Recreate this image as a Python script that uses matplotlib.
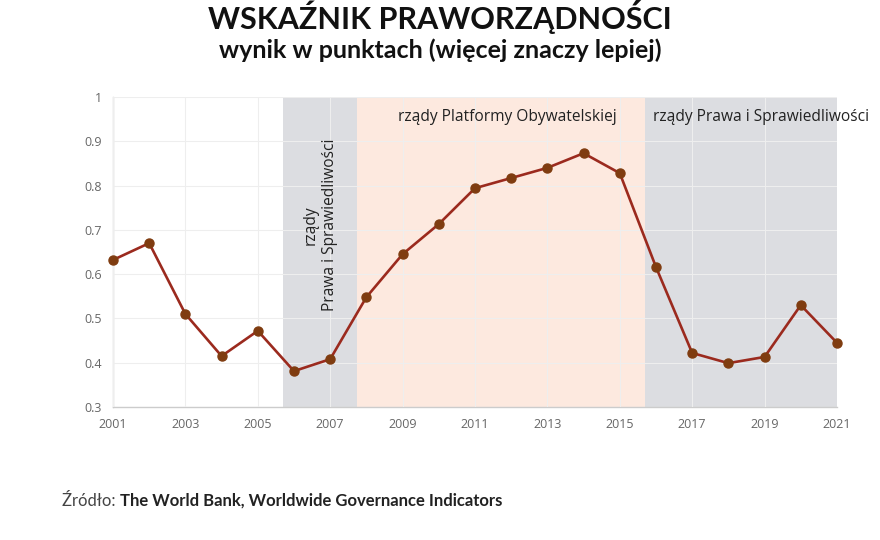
import matplotlib
matplotlib.use("Agg")
import matplotlib.pyplot as plt

years = list(range(2001, 2022))
values = [0.632, 0.670, 0.510, 0.415, 0.472, 0.381, 0.408, 0.548, 0.645, 0.713,
          0.794, 0.817, 0.840, 0.873, 0.828, 0.616, 0.422, 0.399, 0.413, 0.530, 0.445]
xticks = list(range(2001, 2022, 2))
yticks = [0.3, 0.4, 0.5, 0.6, 0.7, 0.8, 0.9, 1.0]
ytick_labels = ["0.3", "0.4", "0.5", "0.6", "0.7", "0.8", "0.9", "1"]
periods = [(2005.7, 2007.74, "#dcdde1"), (2007.74, 2015.7, "#fde9df"), (2015.7, 2021, "#dcdde1")]

fig = plt.figure(figsize=(8.8, 5.4), dpi=100)
fig.patch.set_facecolor("white")
ax = fig.add_axes([0.1284, 0.2463, 0.8227, 0.5741])

for x0, x1, c in periods:
    ax.axvspan(x0, x1, color=c, lw=0, zorder=0)

ax.set_xlim(2001, 2021)
ax.set_ylim(0.3, 1.0)
ax.set_xticks(xticks)
ax.set_yticks(yticks)
ax.set_yticklabels(ytick_labels)
ax.grid(True, color="#eeeeee", lw=0.8, zorder=1)
ax.set_axisbelow(False)
for s in ["top", "right"]:
    ax.spines[s].set_visible(False)
for s in ["left", "bottom"]:
    ax.spines[s].set_color("#cccccc")
    ax.spines[s].set_linewidth(1)
ax.tick_params(length=0, labelsize=9, labelcolor="#666666", pad=8)
for lab in ax.get_xticklabels() + ax.get_yticklabels():
    lab.set_family("Open Sans")

ax.plot(years, values, color="#9b2a1e", lw=1.9, zorder=3, clip_on=False,
        marker="o", ms=6.5, mfc="#7f3c10", mec="#7f3c10")

ax.text(2006.72, 0.711, "rządy\nPrawa i Sprawiedliwości", rotation=90, ha="center", va="center",
        fontsize=11.2, color="#222222", family="Open Sans", linespacing=1.25)
ax.text(2011.9, 0.955, "rządy Platformy Obywatelskiej", ha="center", va="center",
        fontsize=11.2, color="#222222", family="Open Sans")
ax.text(2015.92, 0.955, "rządy Prawa i Sprawiedliwości", ha="left", va="center",
        fontsize=11.2, color="#222222", family="Open Sans", clip_on=False)

fig.text(0.5, 0.968, "WSKAŹNIK PRAWORZĄDNOŚCI", ha="center", va="center",
         fontsize=22, fontweight="bold", family="Lato", color="#111111")
fig.text(0.5, 0.907, "wynik w punktach (więcej znaczy lepiej)", ha="center", va="center",
         fontsize=18, fontweight="bold", family="Lato", color="#111111")

fig.text(0.0705, 0.073, "Źródło: ", ha="left", va="center", fontsize=12,
         family="Lato", color="#444444")
fig.canvas.draw()
r = fig.canvas.get_renderer()
t0 = fig.texts[-1]
bb = t0.get_window_extent(r)
fig.text(bb.x1 / fig.bbox.width, 0.073, "The World Bank, Worldwide Governance Indicators",
         ha="left", va="center", fontsize=12, fontweight="bold", family="Lato", color="#222222")

fig.savefig("out.png", dpi=100, facecolor="white")
